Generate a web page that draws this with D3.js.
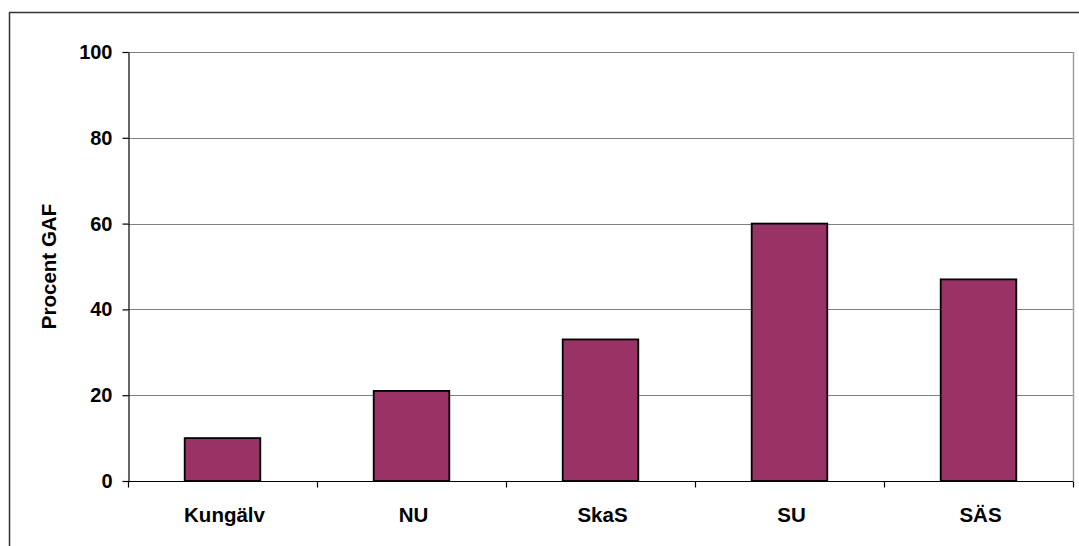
<!DOCTYPE html>
<html>
<head>
<meta charset="utf-8">
<script src="https://cdn.jsdelivr.net/npm/d3@7"></script>
<style>
  body { margin: 0; background: #fff; }
  svg text { font-family: Arial, "Liberation Sans", sans-serif; font-weight: bold; fill: #000; }
</style>
</head>
<body>
<svg id="chart" width="1079" height="546"></svg>
<script>
// data
var categories = ["Kungälv", "NU", "SkaS", "SU", "SÄS"];
var values = [10, 21, 33, 60, 47];
var yTicks = [0, 20, 40, 60, 80, 100];
var yTitle = "Procent GAF";

var svg = d3.select("#chart");

// outer frame of the chart
svg.append("rect")
    .attr("x", 9.5).attr("y", 12.5)
    .attr("width", 1100).attr("height", 560)
    .attr("fill", "none")
    .attr("stroke", "#333")
    .attr("stroke-width", 1.5);

var plotLeft = 128, plotRight = 1073, plotTop = 52, plotBottom = 481;

var x = d3.scaleBand()
    .domain(categories)
    .range([plotLeft, plotRight])
    .paddingInner(0.6)
    .paddingOuter(0.3);

var xTicks = d3.scaleBand().domain(categories).range([plotLeft, plotRight]);

var y = d3.scaleLinear().domain([0, 100]).range([plotBottom, plotTop]);

// gridlines
svg.append("g")
    .selectAll("line")
    .data(yTicks.filter(function(d) { return d > 0; }))
    .enter()
    .append("line")
    .attr("x1", plotLeft).attr("x2", plotRight)
    .attr("y1", function(d) { return Math.round(y(d)) + 0.5; })
    .attr("y2", function(d) { return Math.round(y(d)) + 0.5; })
    .attr("stroke", "#808080")
    .attr("stroke-width", 1.2);

// right border of the plot area
svg.append("line")
    .attr("x1", plotRight + 0.5).attr("x2", plotRight + 0.5)
    .attr("y1", plotTop).attr("y2", plotBottom)
    .attr("stroke", "#a0a0a0")
    .attr("stroke-width", 1.5);

// bars
svg.append("g")
    .selectAll("rect")
    .data(values)
    .enter()
    .append("rect")
    .attr("x", function(d, i) { return x(categories[i]); })
    .attr("y", function(d) { return y(d); })
    .attr("width", x.bandwidth())
    .attr("height", function(d) { return y(0) - y(d); })
    .attr("fill", "#993366")
    .attr("stroke", "#000")
    .attr("stroke-width", 1.8);

// y axis
var yAxis = svg.append("g")
    .attr("transform", "translate(" + (plotLeft + 0.5) + ",0)")
    .call(d3.axisLeft(y).tickValues(yTicks).tickSize(6).tickPadding(10).tickSizeOuter(0));
yAxis.select(".domain").attr("stroke", "#000").attr("stroke-width", 1.2);
yAxis.selectAll(".tick line").attr("stroke", "#000").attr("stroke-width", 1.2);
yAxis.selectAll("text").style("font-size", "20px");

// x axis: category ticks sit between the bars
var xAxis = svg.append("g").attr("transform", "translate(0," + (plotBottom + 0.5) + ")");
xAxis.append("line")
    .attr("x1", plotLeft).attr("x2", plotRight)
    .attr("stroke", "#000").attr("stroke-width", 1.2);
xAxis.selectAll(".sep")
    .data(categories.concat(["end"]))
    .enter()
    .append("line")
    .attr("class", "sep")
    .attr("x1", function(d, i) { return Math.round(plotLeft + i * xTicks.bandwidth()) + 0.5; })
    .attr("x2", function(d, i) { return Math.round(plotLeft + i * xTicks.bandwidth()) + 0.5; })
    .attr("y1", 0).attr("y2", 6)
    .attr("stroke", "#000").attr("stroke-width", 1.2);
xAxis.selectAll(".lbl")
    .data(categories)
    .enter()
    .append("text")
    .attr("class", "lbl")
    .attr("x", function(d) { return xTicks(d) + xTicks.bandwidth() / 2 + 2; })
    .attr("y", 40)
    .attr("text-anchor", "middle")
    .style("font-size", "20.5px")
    .text(function(d) { return d; });

// y title
svg.append("text")
    .attr("transform", "translate(56," + ((plotTop + plotBottom) / 2) + ") rotate(-90)")
    .attr("text-anchor", "middle")
    .style("font-size", "20.5px")
    .text(yTitle);
</script>
</body>
</html>
